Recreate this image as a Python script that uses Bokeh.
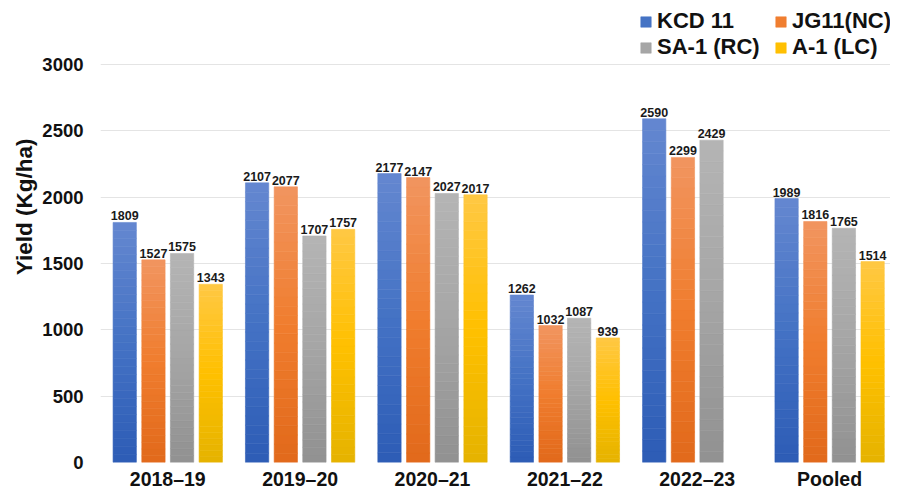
from bokeh.plotting import figure
from bokeh.models import (ColumnDataSource, Range1d, FixedTicker, Legend, LegendItem,
                          LabelSet, Title)
from bokeh.embed import file_html
from bokeh.resources import INLINE
from bokeh.core.properties import value

# ---------------- data ----------------
seasons = ["2018–19", "2019–20", "2020–21", "2021–22", "2022–23", "Pooled"]
series_names = ["KCD 11", "JG11(NC)", "SA-1 (RC)", "A-1 (LC)"]
kcd11 = [1809, 2107, 2177, 1262, 2590, 1989]
jg11_nc = [1527, 2077, 2147, 1032, 2299, 1816]
sa1_rc = [1575, 1707, 2027, 1087, 2429, 1765]
a1_lc = [1343, 1757, 2017, 939, None, 1514]
y_ticks = [0, 500, 1000, 1500, 2000, 2500, 3000]

series_values = [kcd11, jg11_nc, sa1_rc, a1_lc]
# gradient stops: (top, middle, bottom)
gradients = [
    ("#6487D0", "#4472C4", "#2D5CB6"),
    ("#F19560", "#F07D2E", "#E1691B"),
    ("#B5B5B5", "#A5A5A5", "#919191"),
    ("#FFC844", "#FFC000", "#E5B300"),
]
offsets = [-0.325, -0.108, 0.108, 0.325]
bar_width = 0.176
FONT = "Liberation Sans"

# frame spans the full height above the x axis; the 0-3000 scale occupies
# its lower part, the legend sits in the headroom above 3000
FRAME_H = 463
Y_TOP_PX = 64
y_max = 3000 * FRAME_H / (FRAME_H - Y_TOP_PX)


def hex_to_rgb(h):
    h = h.lstrip("#")
    return tuple(int(h[i:i + 2], 16) for i in (0, 2, 4))


def mix(c1, c2, t):
    a, b = hex_to_rgb(c1), hex_to_rgb(c2)
    return "#%02x%02x%02x" % tuple(int(round(a[i] + (b[i] - a[i]) * t)) for i in range(3))


def grad_color(stops, f):
    top, mid, bot = stops
    if f < 0.5:
        return mix(bot, mid, f / 0.5)
    return mix(mid, top, (f - 0.5) / 0.5)


p = figure(width=890, height=492, output_backend="svg", toolbar_location=None,
           x_range=Range1d(-0.508, 5.46), y_range=Range1d(0, y_max),
           min_border_left=100, min_border_right=0, min_border_top=0,
           min_border_bottom=26)
p.outline_line_color = None
p.background_fill_color = "white"
p.border_fill_color = "white"

N = 30
legend_items = []
for s, (name, vals, stops, off) in enumerate(
        zip(series_names, series_values, gradients, offsets)):
    xs, tops, bots, cols = [], [], [], []
    lx, ly, lt = [], [], []
    for g, v in enumerate(vals):
        if v is None:
            continue
        for k in range(N):
            xs.append(g + off)
            bots.append(v * k / N)
            tops.append(v * (k + 1) / N)
            cols.append(grad_color(stops, (k + 0.5) / N))
        lx.append(g + off)
        ly.append(v)
        lt.append(str(v))
    src = ColumnDataSource(dict(x=xs, top=tops, bottom=bots, c=cols))
    r = p.vbar(x="x", top="top", bottom="bottom", width=bar_width, source=src,
               fill_color="c", line_color="c", line_width=0.6)
    lsrc = ColumnDataSource(dict(x=lx, y=ly, t=lt))
    p.add_layout(LabelSet(x="x", y="y", text="t", source=lsrc, text_align="center",
                          text_baseline="bottom", y_offset=2,
                          text_font=value(FONT), text_font_style="bold",
                          text_font_size="12.5px", text_color="#1a1a1a"))
    legend_items.append(LegendItem(label=name, renderers=[r], index=N // 2))

legend = Legend(items=legend_items, orientation="horizontal", ncols=2,
                location=(539, 402), glyph_width=13, glyph_height=13,
                label_standoff=5, spacing=0, padding=0, margin=0, label_width=117,
                label_text_font=FONT, label_text_font_style="bold",
                label_text_font_size="22px", label_text_color="#111111",
                border_line_color=None, background_fill_alpha=0)
p.add_layout(legend, "center")

# axes
p.xaxis.ticker = FixedTicker(ticks=list(range(len(seasons))))
p.xaxis.major_label_overrides = {i: s for i, s in enumerate(seasons)}
p.xaxis.major_label_text_font = FONT
p.xaxis.major_label_text_font_style = "bold"
p.xaxis.major_label_text_font_size = "19.5px"
p.xaxis.major_label_text_color = "#111111"
p.xaxis.major_label_standoff = 5
p.xaxis.major_tick_out = 0
p.xaxis.major_tick_in = 0
p.xaxis.axis_line_color = None
p.xaxis.major_tick_line_color = None
p.xaxis.minor_tick_line_color = None

p.yaxis.ticker = FixedTicker(ticks=y_ticks)
p.yaxis.major_label_text_font = FONT
p.yaxis.major_label_text_font_style = "bold"
p.yaxis.major_label_text_font_size = "18.5px"
p.yaxis.major_label_text_color = "#111111"
p.yaxis.major_label_standoff = 17
p.yaxis.major_tick_out = 0
p.yaxis.major_tick_in = 0
p.yaxis.axis_line_color = None
p.yaxis.major_tick_line_color = None
p.yaxis.minor_tick_line_color = None

p.xgrid.grid_line_color = None
p.ygrid.grid_line_color = "#E4E4E4"
p.ygrid.grid_line_width = 1.2

p.add_layout(Title(text="Yield (Kg/ha)", align="right", offset=138, standoff=5,
                   text_font=FONT, text_font_style="bold", text_font_size="22.5px",
                   text_color="#111111"), "left")

open("out.html", "w").write(file_html(p, INLINE))
